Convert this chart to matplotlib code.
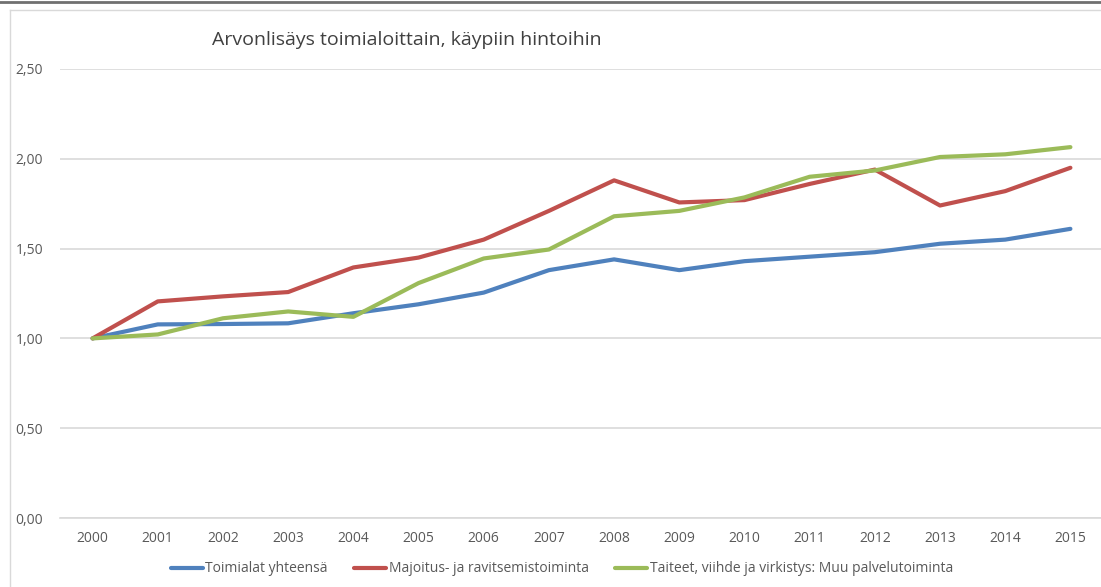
import numpy as np
import matplotlib.pyplot as plt
from matplotlib.lines import Line2D
from matplotlib.ticker import FuncFormatter

plt.rcParams['font.family'] = ['Open Sans', 'DejaVu Sans']

years = [2000, 2001, 2002, 2003, 2004, 2005, 2006, 2007,
         2008, 2009, 2010, 2011, 2012, 2013, 2014, 2015]
toimialat = [1.00, 1.078, 1.08, 1.084, 1.14, 1.19, 1.255, 1.38,
             1.44, 1.38, 1.43, 1.455, 1.48, 1.527, 1.55, 1.61]
majoitus = [1.00, 1.206, 1.234, 1.258, 1.395, 1.45, 1.55, 1.71,
            1.88, 1.757, 1.77, 1.86, 1.94, 1.74, 1.82, 1.95]
taiteet = [1.00, 1.022, 1.112, 1.15, 1.12, 1.308, 1.445, 1.495,
           1.68, 1.71, 1.785, 1.90, 1.935, 2.01, 2.025, 2.065]
labels = ["Toimialat yhteensä", "Majoitus- ja ravitsemistoiminta",
          "Taiteet, viihde ja virkistys: Muu palvelutoiminta"]
colors = ["#4F81BD", "#C0504D", "#9BBB59"]

fig = plt.figure(figsize=(11.01, 5.87), dpi=100)
# plot area: x 60..1103 px, y 0 at px 518, 2.5 at px 69
ax = fig.add_axes([60 / 1101, (587 - 518) / 587, 1043 / 1101, 449 / 587])

x = np.arange(len(years))
for vals, lab, c in zip([toimialat, majoitus, taiteet], labels, colors):
    ax.plot(x, vals, color=c, lw=3, label=lab, solid_capstyle='round',
            solid_joinstyle='round')

ax.set_xlim(-0.5, len(years) - 0.5)
ax.set_ylim(0, 2.5)
ax.set_yticks(np.arange(0, 2.51, 0.5))
ax.yaxis.set_major_formatter(FuncFormatter(lambda v, p: f"{v:.2f}".replace('.', ',')))
ax.set_xticks(x)
ax.set_xticklabels([str(y) for y in years])
ax.grid(axis='y', color='#D9D9D9', lw=1.2)
ax.set_axisbelow(True)
for s in ['top', 'right', 'left']:
    ax.spines[s].set_visible(False)
ax.spines['bottom'].set_color('#D9D9D9')
ax.spines['bottom'].set_linewidth(1.2)
ax.tick_params(axis='both', length=0, colors='#595959', labelsize=10)
ax.tick_params(axis='y', pad=12)
ax.tick_params(axis='x', pad=9)

fig.text(407 / 1101, 1 - 40 / 587, "Arvonlisäys toimialoittain, käypiin hintoihin",
         ha='center', va='center', fontsize=14, color='#404040')

leg = fig.legend(loc='center', bbox_to_anchor=(562 / 1101, 1 - 569 / 587), ncol=3,
                 frameon=False, fontsize=10, handlelength=2.3, handletextpad=0.2,
                 columnspacing=1.9)
for t in leg.get_texts():
    t.set_color('#595959')

# window / chart borders
fig.add_artist(Line2D([0, 1], [1 - 1.5 / 587, 1 - 1.5 / 587], color='#707070', lw=2))
fig.add_artist(Line2D([10 / 1101, 1], [1 - 10 / 587, 1 - 10 / 587], color='#D9D9D9', lw=1))
fig.add_artist(Line2D([10 / 1101, 10 / 1101], [0, 1 - 10 / 587], color='#D9D9D9', lw=1))

fig.savefig("out.png", dpi=100)
